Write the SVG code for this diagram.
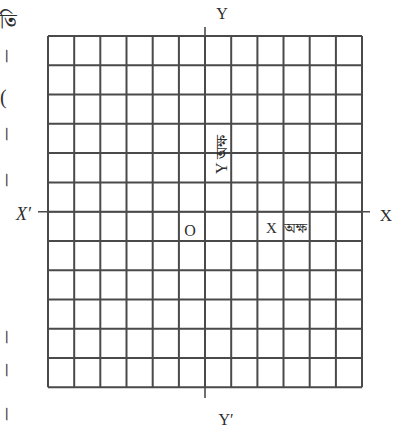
<svg xmlns="http://www.w3.org/2000/svg" width="396" height="427" viewBox="0 0 396 427">
<style>
.g{stroke:#4a4a4a;stroke-width:2;fill:none}
.ax{stroke:#4a4a4a;stroke-width:1.6;fill:none}
.t{font-family:"Liberation Serif","Noto Serif Bengali","Noto Sans Bengali",serif;fill:#2e2e2e}
</style>
<rect width="396" height="427" fill="#fff"/>
<g id="grid" class="g">
<path d="M48 36V387.3M74.2 36V387.3M100.3 36V387.3M126.5 36V387.3M152.7 36V387.3M178.9 36V387.3M205 36V387.3M231.2 36V387.3M257.4 36V387.3M283.5 36V387.3M309.7 36V387.3M335.9 36V387.3M362 36V387.3"/>
<path d="M48 36H362M48 65.3H362M48 94.6H362M48 123.8H362M48 153.1H362M48 182.4H362M48 211.7H362M48 240.9H362M48 270.2H362M48 299.5H362M48 328.8H362M48 358H362M48 387.3H362"/>
</g>
<g id="axes" class="ax">
<path d="M38 211.7H370"/>
<path d="M205 27V398"/>
</g>
<g id="labels" class="t">
<text x="222" y="19" font-size="16" text-anchor="middle">Y</text>
<text x="226" y="425" font-size="16" text-anchor="middle">Y′</text>
<text x="16" y="220" font-size="18" font-style="italic">X′</text>
<text x="386" y="221" font-size="17" text-anchor="middle">X</text>
<text x="190" y="236" font-size="16" text-anchor="middle">O</text>
<text x="266" y="233" font-size="15" xml:space="preserve">X  অক্ষ</text>
<text transform="translate(227 174) rotate(-90)" font-size="16" xml:space="preserve">Y অক্ষ</text>
</g>
<g id="margin" class="t" font-size="20">
<text x="0" y="28">তি</text>
<text x="0" y="62">।</text>
<text x="0" y="104">(</text>
<text x="0" y="140">।</text>
<text x="0" y="186">।</text>
<text x="0" y="343">।</text>
<text x="0" y="376">।</text>
<text x="0" y="420">।</text>
</g>
</svg>
